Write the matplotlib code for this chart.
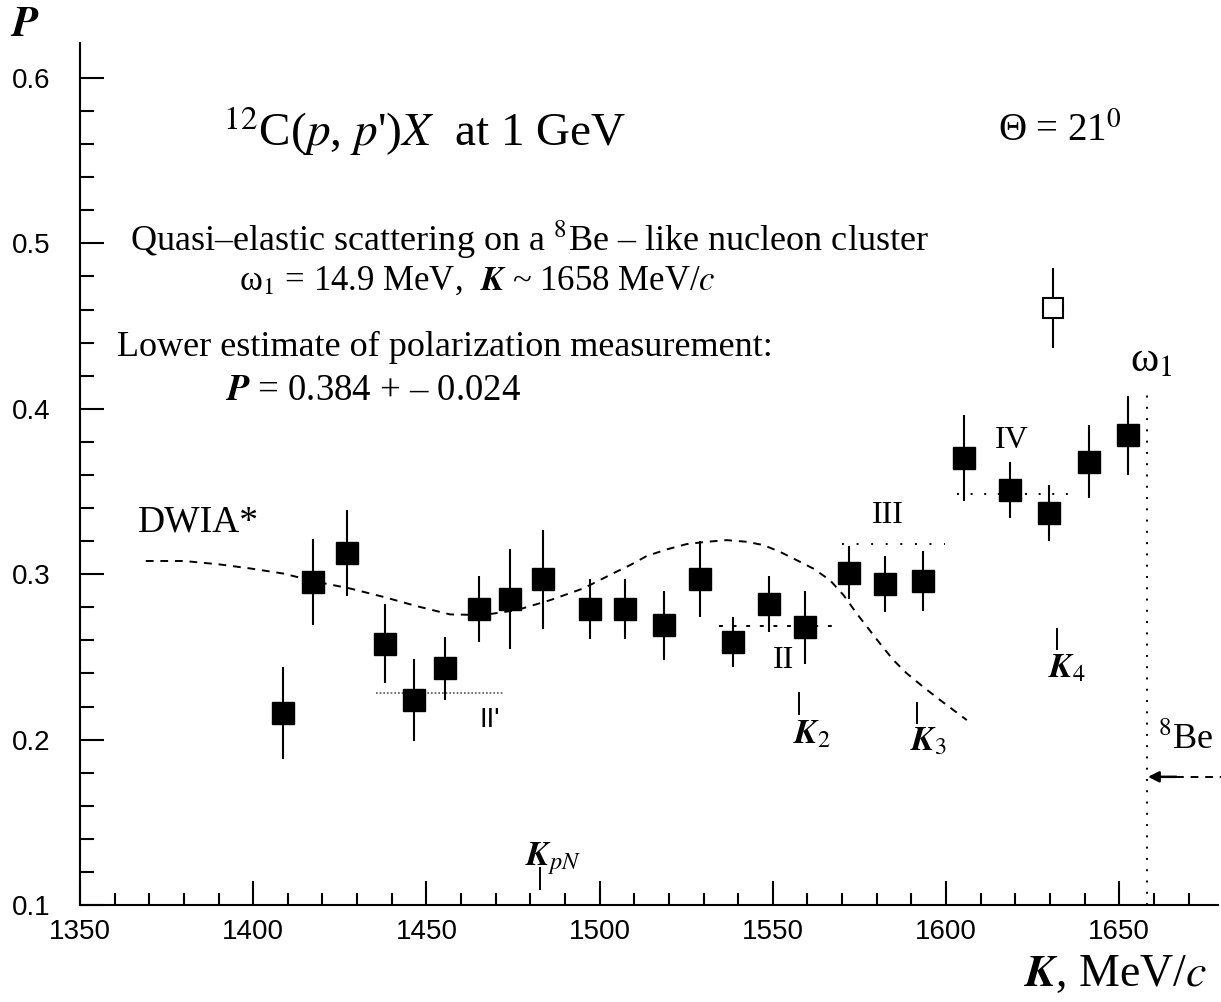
import matplotlib
matplotlib.use("Agg")
import matplotlib.pyplot as plt
from matplotlib.ticker import MultipleLocator, FixedLocator, FormatStrFormatter
import numpy as np

plt.rcParams['font.family'] = ['Liberation Serif', 'DejaVu Serif']
plt.rcParams['mathtext.fontset'] = 'stix'

# measured polarization, 12C(p,p')X at 1 GeV, Theta = 21 deg
K_meas = [1408.6, 1417.3, 1427.0, 1438.0, 1446.4, 1455.4, 1465.2, 1474.1,
          1483.8, 1497.2, 1507.3, 1518.6, 1529.0, 1538.6, 1549.0, 1559.4,
          1572.1, 1582.5, 1593.4, 1605.3, 1618.5, 1629.6, 1641.4, 1652.4]
P_meas = [0.216, 0.295, 0.313, 0.258, 0.224, 0.243, 0.279, 0.285,
          0.297, 0.279, 0.279, 0.269, 0.297, 0.259, 0.282, 0.268,
          0.301, 0.294, 0.296, 0.370, 0.351, 0.337, 0.368, 0.384]
P_err = [0.028, 0.026, 0.026, 0.024, 0.025, 0.019, 0.020, 0.030,
         0.030, 0.018, 0.018, 0.021, 0.023, 0.015, 0.017, 0.022,
         0.016, 0.017, 0.018, 0.026, 0.017, 0.017, 0.022, 0.024]

# single point shown with an open marker
K_open, P_open, err_open = 1631.0, 0.461, 0.024

# DWIA* calculation
K_dwia = [1369, 1380, 1390, 1399.1, 1408.7, 1418.3, 1427.9, 1437.6, 1447.2,
          1456.8, 1466.4, 1476.1, 1485.7, 1495.3, 1503.9, 1508.8, 1513.6,
          1519.4, 1525.1, 1530.9, 1536.7, 1542.5, 1547.3, 1552.1, 1556.9,
          1561.7, 1566.5, 1570.4, 1574.2, 1580.9, 1584.8, 1588.7, 1593.4,
          1598.3, 1606.0]
P_dwia = [0.308, 0.308, 0.306, 0.3035, 0.3004, 0.2954, 0.2914, 0.2863, 0.2807,
          0.2757, 0.2753, 0.2783, 0.2843, 0.2914, 0.3005, 0.3055, 0.311,
          0.315, 0.3182, 0.3196, 0.3206, 0.3196, 0.3176, 0.3135, 0.3085,
          0.3034, 0.2964, 0.2874, 0.2763, 0.2582, 0.2481, 0.240, 0.2319,
          0.2239, 0.2118]

# plateau levels: (label, K from, K to, P)
plateaus = [("II'", 1435.5, 1472.4, 0.2283),
            ("II", 1534.6, 1567.0, 0.2686),
            ("III", 1569.9, 1599.7, 0.3182),
            ("IV", 1603.3, 1635.1, 0.3484)]

# characteristic momenta
K_pN, K_2, K_3, K_4 = 1482.8, 1557.7, 1591.7, 1632.0
K_omega1 = 1658.0
P_8Be = 0.1775

fig = plt.figure(figsize=(12.21, 10.02), dpi=100)
ax = fig.add_axes([0.0655, 0.0968, 0.932, 0.860])
ax.set_xlim(1350, 1678.5)
ax.set_ylim(0.1, 0.621)

for s in ['top', 'right']:
    ax.spines[s].set_visible(False)
for s in ['left', 'bottom']:
    ax.spines[s].set_linewidth(1.5)

ax.xaxis.set_major_locator(MultipleLocator(50))
ax.xaxis.set_minor_locator(MultipleLocator(10))
ax.yaxis.set_major_locator(FixedLocator(np.arange(0.1, 0.61, 0.1)))
ax.yaxis.set_minor_locator(FixedLocator(np.arange(0.1, 0.601, 0.02)))
ax.yaxis.set_major_formatter(FormatStrFormatter('%.1f'))
ax.tick_params(which='both', direction='in', width=1.5, colors='black')
ax.tick_params(axis='x', which='major', length=17, pad=10)
ax.tick_params(axis='x', which='minor', length=8.5)
ax.tick_params(axis='y', which='major', length=17, pad=21)
ax.tick_params(axis='y', which='minor', length=10)
for lab in ax.get_xticklabels() + ax.get_yticklabels():
    lab.set_fontfamily('Liberation Sans')
    lab.set_fontsize(20)

# DWIA curve
ax.plot(K_dwia, P_dwia, color='black', lw=1.4, dashes=(4, 3.5))

# plateau lines
ax.plot(plateaus[0][1:3], [plateaus[0][3]] * 2, color='#555555', lw=1.2, dashes=(1, 1.2))
ax.plot(plateaus[1][1:3], [plateaus[1][3]] * 2, color='black', lw=1.4, dashes=(2, 5))
ax.plot(plateaus[2][1:3], [plateaus[2][3]] * 2, color='black', lw=1.4, dashes=(1, 6.5))
ax.plot(plateaus[3][1:3], [plateaus[3][3]] * 2, color='black', lw=1.4, dashes=(1, 6))

# data
ax.errorbar(K_meas, P_meas, yerr=P_err, fmt='s', ms=15.5, mfc='black', mec='black',
            mew=1, ecolor='black', elinewidth=1.5, capsize=0, zorder=3)
ax.errorbar([K_open], [P_open], yerr=[err_open], fmt='s', ms=15, mfc='white',
            mec='black', mew=1.5, ecolor='black', elinewidth=1.5, capsize=0, zorder=3)

# omega_1 boundary
ax.plot([K_omega1, K_omega1], [0.1, 0.411], color='black', lw=1.4, dashes=(1, 4.8))

# momentum markers
ax.plot([K_pN, K_pN], [0.1097, 0.1224], color='black', lw=1.4)
ax.plot([K_2, K_2], [0.2156, 0.2280], color='black', lw=1.4)
ax.plot([K_3, K_3], [0.2098, 0.2219], color='black', lw=1.4)
ax.plot([K_4, K_4], [0.2546, 0.2671], color='black', lw=1.4)

# 8Be arrow and dashed tail
ax.annotate('', xy=(K_omega1 + 0.3, P_8Be), xytext=(1666.5, P_8Be),
            arrowprops=dict(arrowstyle='-|>', color='black', lw=1.8,
                            mutation_scale=16, shrinkA=0, shrinkB=0))
ax.plot([1666.5, 1680], [P_8Be, P_8Be], color='black', lw=1.4, dashes=(4, 3.5),
        clip_on=False)

# text
ax.text(1449.6, 0.568, "$^{12}$C($p$, $p$')$X$  at 1 GeV", fontsize=34,
        ha='center', va='center')
ax.text(1632.9, 0.568, "Θ = 21$^0$", fontsize=28, ha='center', va='center')
ax.text(1479.6, 0.502, "Quasi–elastic scattering on a $^8$Be – like nucleon cluster",
        fontsize=26, ha='center', va='center')
ax.text(1464.6, 0.477, r"ω$_1$ = 14.9 MeV,  $\mathbfit{K}$ ~ 1658 MeV/$c$",
        fontsize=25, ha='center', va='center')
ax.text(1360.7, 0.437, "Lower estimate of polarization measurement:", fontsize=26,
        ha='left', va='center')
ax.text(1391.9, 0.411, r"$\mathbfit{P}$ = 0.384 + – 0.024", fontsize=26.5,
        ha='left', va='center')
ax.text(1366.7, 0.3315, "DWIA*", fontsize=27, ha='left', va='center')

ax.text(1468.4, 0.2118, "II'", fontsize=20, ha='center', va='center',
        family='Liberation Sans')
ax.text(1553.0, 0.248, "II", fontsize=23, ha='center', va='center')
ax.text(1583.3, 0.3357, "III", fontsize=23, ha='center', va='center')
ax.text(1619.0, 0.381, "IV", fontsize=23, ha='center', va='center')

ax.text(1478.5, 0.128, r"$\mathbfit{K}_{pN}$", fontsize=25, ha='left', va='center')
ax.text(1555.8, 0.203, r"$\mathbfit{K}_2$", fontsize=25, ha='left', va='center')
ax.text(1589.6, 0.1985, r"$\mathbfit{K}_3$", fontsize=25, ha='left', va='center')
ax.text(1629.4, 0.243, r"$\mathbfit{K}_4$", fontsize=25, ha='left', va='center')
ax.text(1653.1, 0.429, "ω$_1$", fontsize=31, ha='left', va='center')
ax.text(1661.2, 0.2, "$^8$Be", fontsize=26, ha='left', va='center')

fig.text(10 / 1221, 1 - 26 / 1002, r"$\mathbfit{P}$", fontsize=31, ha='left',
         va='center')
fig.text(1207 / 1221, 1 - 975 / 1002, r"$\mathbfit{K}$, MeV/$c$", fontsize=33,
         ha='right', va='center')

fig.savefig('out.png', dpi=100)
